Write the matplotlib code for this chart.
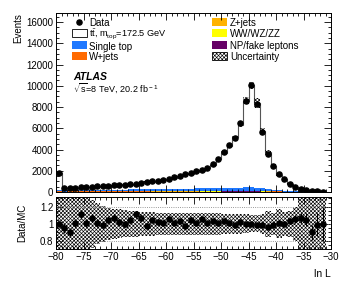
import numpy as np
import matplotlib
matplotlib.use("Agg")
import matplotlib.pyplot as plt
from matplotlib.patches import Rectangle
from matplotlib.ticker import MultipleLocator, FormatStrFormatter

plt.rcParams['font.family'] = ['Liberation Sans', 'DejaVu Sans']
plt.rcParams['mathtext.fontset'] = 'custom'
plt.rcParams['mathtext.rm'] = 'Liberation Sans'
plt.rcParams['mathtext.it'] = 'Liberation Sans:italic'
plt.rcParams['hatch.linewidth'] = 0.45

# ---- data (bins of width 1 from -80 to -31) ----
edges = np.arange(-80, -30, 1)
data = [1800, 330, 380, 420, 450, 470, 490, 520, 560, 590, 620, 650, 690, 740,
        800, 860, 930, 990, 1070, 1150, 1250, 1370, 1510, 1650, 1800, 1930, 2090,
        2260, 2620, 3150, 3800, 4380, 5080, 6480, 8580, 10050, 8300, 5680, 3600,
        2420, 1650, 1200, 790, 500, 320, 200, 110, 55, 25]
ratio = [1.00, 0.95, 0.90, 1.01, 1.11, 1.01, 1.07, 1.01, 0.99, 1.05, 1.07, 1.02,
         1.00, 1.05, 1.11, 1.07, 0.98, 1.05, 1.02, 1.01, 1.06, 1.01, 1.03, 0.98,
         1.05, 1.01, 1.06, 1.01, 1.03, 1.01, 1.03, 1.01, 0.99, 1.02, 1.00, 1.00,
         0.99, 0.99, 0.96, 0.99, 1.01, 1.00, 1.03, 1.06, 1.07, 1.05, 0.90, 0.99, 1.00]
single_top = [150, 110, 115, 120, 124, 128, 133, 137, 142, 146, 150, 155, 160, 164,
              170, 175, 180, 186, 192, 197, 203, 208, 214, 219, 225, 231, 236, 242,
              248, 254, 260, 266, 272, 280, 288, 290, 270, 232, 190, 150, 116, 88, 64,
              46, 32, 21, 12, 6, 3]
w_jets = [30, 20, 21, 22, 22, 24, 25, 26, 26, 27, 28, 29, 30, 31, 31, 32, 33, 34,
          35, 35, 36, 37, 38, 39, 40, 41, 42, 43, 44, 46, 47, 49, 50, 52, 54, 55,
          50, 42, 34, 27, 21, 16, 12, 9, 6, 4, 3, 2, 1]
z_jets = [10, 6, 6, 7, 7, 8, 8, 8, 9, 9, 10, 10, 10, 11, 11, 12, 12, 13, 13,
          14, 14, 15, 15, 16, 16, 17, 17, 18, 19, 20, 21, 22, 23, 24, 25, 25, 22, 19,
          15, 12, 9, 7, 5, 4, 3, 2, 1, 1, 0]
diboson = [3, 2, 2, 2, 2, 2, 2, 2, 2, 3, 3, 3, 3, 3, 3, 3, 3, 3, 4, 4, 4, 4, 4, 4,
           4, 4, 5, 5, 5, 5, 5, 5, 6, 6, 6, 6, 6, 5, 4, 3, 3, 2, 2, 1, 1, 1, 0, 0, 0]
fakes = [30, 18, 19, 20, 21, 22, 23, 23, 24, 25, 26, 27, 28, 29, 30, 31, 32, 33,
         34, 35, 36, 37, 38, 40, 41, 42, 43, 44, 46, 47, 48, 49, 50, 52, 53, 53, 49,
         43, 36, 30, 24, 19, 16, 12, 10, 7, 5, 3, 2]
main_unc = [0.08, 0.10, 0.10, 0.10, 0.09, 0.09, 0.08, 0.08, 0.07, 0.07, 0.06, 0.06,
            0.06, 0.05, 0.05, 0.05, 0.05, 0.05, 0.04, 0.04, 0.04, 0.04, 0.04, 0.04,
            0.04, 0.04, 0.04, 0.04, 0.04, 0.04, 0.04, 0.035, 0.035, 0.035, 0.04, 0.035,
            0.06, 0.05, 0.06, 0.06, 0.07, 0.08, 0.10, 0.12, 0.15, 0.2, 0.25, 0.3, 0.3]
ratio_band = [0.4, 0.4, 0.4, 0.4, 0.4, 0.30, 0.28, 0.24, 0.21, 0.19, 0.18, 0.17,
              0.16, 0.15, 0.15, 0.14, 0.14, 0.14, 0.13, 0.13, 0.13, 0.13, 0.13, 0.13,
              0.13, 0.13, 0.13, 0.13, 0.13, 0.13, 0.12, 0.12, 0.12, 0.12, 0.11, 0.10,
              0.10, 0.12, 0.15, 0.13, 0.17, 0.14, 0.15, 0.20, 0.4, 0.4, 0.4, 0.4, 0.4]

labels = ['Data', r't$\bar{\rm t}$, m$_{\rm top}$=172.5 GeV', 'Single top', 'W+jets',
          'Z+jets', 'WW/WZ/ZZ', 'NP/fake leptons', 'Uncertainty']
c_single = '#1f78ff'
c_w = '#ff6a00'
c_z = '#ffb300'
c_vv = '#ffff00'
c_fake = '#660066'
HATCH = 'xxxxxxxxx'

data = np.array(data, float)
ratio = np.array(ratio, float)
centers = 0.5 * (edges[:-1] + edges[1:])
mc_total = data / ratio
layers = [np.array(fakes, float), np.array(diboson, float), np.array(z_jets, float),
          np.array(w_jets, float), np.array(single_top, float)]
colors = [c_fake, c_vv, c_z, c_w, c_single]

W, H = 349, 287
fig = plt.figure(figsize=(W / 100, H / 100), dpi=100)
L, R, T, B = 56, 331, 13, 192
ax = fig.add_axes([L / W, 1 - B / H, (R - L) / W, (B - T) / H])
rax = fig.add_axes([L / W, 1 - 249 / H, (R - L) / W, (249 - 197) / H])


def axp(px, py):
    return (px - L) / (R - L), (B - py) / (B - T)


base = np.zeros_like(data)
for lay, col in zip(layers, colors):
    ax.stairs(base + lay, edges, baseline=base, fill=True, color=col, lw=0)
    base = base + lay
ax.stairs(mc_total, edges, baseline=base, fill=True, color='white', lw=0)
ax.stairs(mc_total, edges, baseline=0, color='#555555', lw=0.8)

u = np.array(main_unc)
ax.bar(centers, 2 * mc_total * u, bottom=mc_total * (1 - u), width=1.0,
       fill=False, hatch=HATCH, edgecolor='black', linewidth=0)
ax.errorbar(centers, data, yerr=np.sqrt(data), fmt='o', ms=3.7, color='black',
            elinewidth=0.8, capsize=0)

ax.set_xlim(-80, -30)
ax.set_ylim(0, 16850)
ax.yaxis.set_major_locator(MultipleLocator(2000))
ax.yaxis.set_minor_locator(MultipleLocator(500))
for a in (ax, rax):
    a.xaxis.set_major_locator(MultipleLocator(5))
    a.xaxis.set_minor_locator(MultipleLocator(1))
    a.tick_params(which='both', direction='in', top=True, right=True, labelsize=7,
                  width=0.6, pad=2)
    a.tick_params(which='major', length=5)
    a.tick_params(which='minor', length=2.5)
    for s in a.spines.values():
        s.set_linewidth(0.7)
ax.tick_params(labelbottom=False)
ax.set_ylabel('Events', fontsize=7, loc='top')
ax.yaxis.set_label_coords(-0.118, 1.0)

# manual legend (two columns)
row_y = [22, 33.3, 44.6, 56]
text_dy = [0, -1.6, 1.2, 0.5]
for col_i, (bx, tx) in enumerate([(72, 89), (212, 230)]):
    for r_i in range(4):
        k = col_i * 4 + r_i
        yc = row_y[r_i]
        if k == 0:
            x0, y0 = axp(79, yc)
            ax.plot([x0], [y0], 'o', color='black', ms=3.7, transform=ax.transAxes,
                    clip_on=False)
        else:
            fc = {1: 'white', 2: c_single, 3: c_w, 4: c_z, 5: c_vv, 6: c_fake,
                  7: 'white'}[k]
            ec = 'black' if k in (1, 7) else 'none'
            x0, y0 = axp(bx, yc + 4)
            x1, y1 = axp(bx + 15, yc - 4)
            ax.add_patch(Rectangle((x0, y0), x1 - x0, y1 - y0, transform=ax.transAxes,
                                   facecolor=fc, edgecolor=ec, lw=0.6,
                                   hatch=HATCH if k == 7 else None, clip_on=False))
        dy = text_dy[r_i] if col_i == 0 else 0
        xt, yt = axp(tx, yc + dy)
        ax.text(xt, yt, labels[k], transform=ax.transAxes,
                fontsize=6.6 if k == 1 else 7,
                va='center_baseline', ha='left')

ax.text(*axp(73, 80), 'ATLAS', transform=ax.transAxes,
        fontsize=7.5, fontweight='bold', fontstyle='italic', va='baseline')
ax.text(*axp(73, 92), r'$\sqrt{\rm s}$=8 TeV, 20.2 fb$^{\rm -1}$',
        transform=ax.transAxes, fontsize=6.5, va='baseline')

# ratio panel
rb = np.array(ratio_band)
rax.bar(centers, 2 * rb, bottom=1 - rb, width=1.0, fill=False, hatch=HATCH,
        edgecolor='black', linewidth=0)
for yv in (0.8, 1.0, 1.2):
    rax.axhline(yv, color='#777777', ls=':', lw=0.6)
rax.errorbar(centers, ratio, yerr=ratio / np.sqrt(data), fmt='o', ms=3.7,
             color='black', elinewidth=0.8, capsize=0)
rax.set_xlim(-80, -30)
rax.set_ylim(0.705, 1.315)
rax.yaxis.set_minor_locator(MultipleLocator(0.05))
rax.set_yticks([0.8, 1.0, 1.2])
rax.yaxis.set_major_formatter(FormatStrFormatter('%g'))
rax.set_ylabel('Data/MC', fontsize=7)
rax.yaxis.set_label_coords(-0.105, 0.5)
rax.set_xlabel('ln L', fontsize=7.5, loc='right')
rax.xaxis.set_label_coords(1.0, -0.38)

fig.savefig('out.png', dpi=100)
